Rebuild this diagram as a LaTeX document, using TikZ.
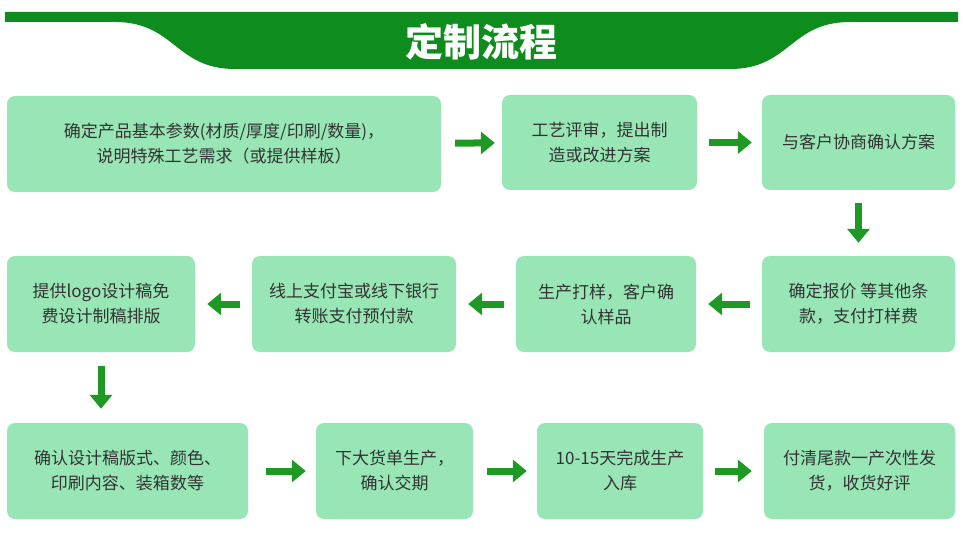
\documentclass[tikz,border=0pt]{standalone}
\usepackage{fontspec}
\setmainfont{Noto Sans CJK SC}
\usetikzlibrary{arrows.meta}
\definecolor{banner}{HTML}{0F8C1E}
\definecolor{boxfill}{HTML}{98E6B6}
\definecolor{arrowc}{HTML}{1E9A24}
\definecolor{txt}{HTML}{333333}
\tikzset{
  stepbox/.style={fill=boxfill, rounded corners=8pt, text=txt, align=center,
    font=\fontsize{17}{25}\selectfont, inner sep=0pt},
  flow/.style={draw=arrowc, line width=7pt, -{Triangle[length=14pt,width=22pt]}}
}
\begin{document}
\begin{tikzpicture}[x=1pt,y=-1pt]
	\useasboundingbox (0,0) rectangle (963,540);
	\fill[white] (0,0) rectangle (963,540);
	
	% Banner
	\fill[banner] (5,12) -- (958,12) -- (958,22) -- (850,22)
		.. controls (790,22) and (790,69) .. (730,69) -- (235,69)
		.. controls (175,69) and (175,22) .. (115,22) -- (5,22) -- cycle;
	\node[text=white, font=\fontsize{38}{40}\selectfont\bfseries] (title) at (481,42) {定制流程};
	
	% Row 1
	\node[stepbox, minimum width=434pt, minimum height=96pt] (a) at (224,144) {确定产品基本参数(材质/厚度/印刷/数量)，\\说明特殊工艺需求（或提供样板）};
	\node[stepbox, minimum width=195pt, minimum height=95pt] (b) at (599.5,142.5) {工艺评审，提出制\\造或改进方案};
	\node[stepbox, minimum width=193pt, minimum height=95pt] (c) at (858.5,142.5) {与客户协商确认方案};
	
	% Row 2
	\node[stepbox, minimum width=193pt, minimum height=96pt] (g) at (858.5,304) {确定报价 等其他条\\款，支付打样费};
	\node[stepbox, minimum width=180pt, minimum height=96pt] (f) at (606,304) {生产打样，客户确\\认样品};
	\node[stepbox, minimum width=204pt, minimum height=96pt] (e) at (354,304) {线上支付宝或线下银行\\转账支付预付款};
	\node[stepbox, minimum width=188pt, minimum height=96pt] (d) at (101,304) {提供logo设计稿免\\费设计制稿排版};
	
	% Row 3
	\node[stepbox, minimum width=241pt, minimum height=96pt] (h) at (127.5,471) {确认设计稿版式、颜色、\\印刷内容、装箱数等};
	\node[stepbox, minimum width=157pt, minimum height=96pt] (i) at (394.5,471) {下大货单生产，\\确认交期};
	\node[stepbox, minimum width=166pt, minimum height=96pt] (j) at (620,471) {10-15天完成生产\\入库};
	\node[stepbox, minimum width=191pt, minimum height=96pt] (k) at (859.5,471) {付清尾款一产次性发\\货，收货好评};
	
	% Arrows
	\draw[flow, shorten <=14pt, shorten >=7pt] (a) -- (b);
	\draw[flow, shorten <=12pt, shorten >=10pt] (b) -- (c);
	\draw[flow, shorten <=13pt, shorten >=13pt] (c) -- (g);
	\draw[flow, shorten <=12pt, shorten >=12pt] (g) -- (f);
	\draw[flow, shorten <=12pt, shorten >=12pt] (f) -- (e);
	\draw[flow, shorten <=12pt, shorten >=12pt] (e) -- (d);
	\draw[flow, shorten <=14pt, shorten >=14pt] (d.south) -- (d.south |- h.north);
	\draw[flow, shorten <=18pt, shorten >=10pt] (h) -- (i);
	\draw[flow, shorten <=14pt, shorten >=10pt] (i) -- (j);
	\draw[flow, shorten <=12pt, shorten >=12pt] (j) -- (k);
\end{tikzpicture}
\end{document}
